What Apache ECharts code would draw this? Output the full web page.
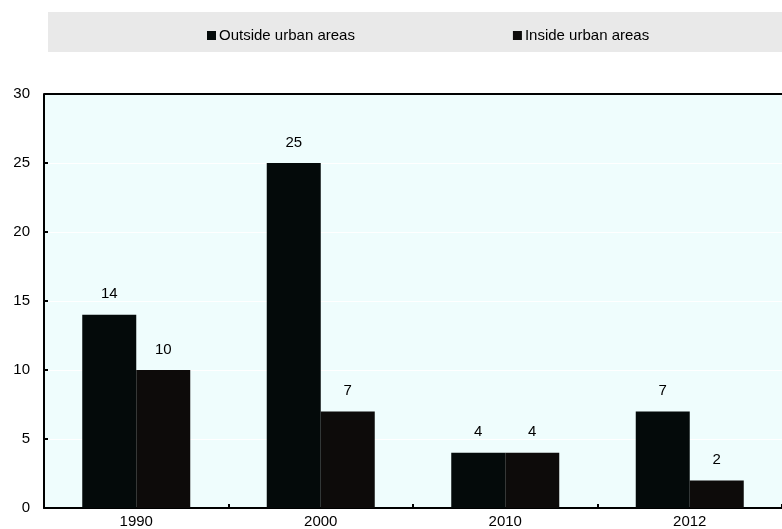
<!DOCTYPE html>
<html>
<head>
<meta charset="utf-8">
<script src="https://cdn.jsdelivr.net/npm/echarts@6/dist/echarts.min.js"></script>
<style>
  html, body { margin: 0; padding: 0; background: #ffffff; }
  #chart { width: 782px; height: 529px; }
</style>
</head>
<body>
<div id="chart"></div>
<script>
// data
const years = ['1990', '2000', '2010', '2012']
const outsideUrban = [14, 25, 4, 7]
const insideUrban = [10, 7, 4, 2]
const yTicks = { min: 0, max: 30, interval: 5 }

const FONT = '"Liberation Sans", Arial, sans-serif'

let myChart = echarts.init(document.getElementById('chart'))

myChart.setOption({
  animation: false,
  textStyle: { fontFamily: FONT },
  graphic: [
    {
      // legend band
      type: 'rect',
      left: 48,
      top: 12,
      shape: { width: 734, height: 40 },
      style: { fill: '#e9e9e9' },
      z: -1
    }
  ],
  legend: {
    left: 202,
    top: 23,
    itemWidth: 9,
    itemHeight: 9,
    itemGap: 158,
    icon: 'rect',
    textStyle: { fontSize: 15, color: '#000', fontFamily: FONT, padding: [0, 0, 0, -2] },
    data: ['Outside urban areas', 'Inside urban areas']
  },
  grid: {
    left: 44,
    right: -6,
    top: 94,
    bottom: 21,
    show: true,
    backgroundColor: '#effdfd',
    borderWidth: 0
  },
  xAxis: {
    type: 'category',
    data: years,
    axisLine: { lineStyle: { color: '#000', width: 2 } },
    axisTick: { show: true, inside: true, length: 4, lineStyle: { color: '#000', width: 2 } },
    axisLabel: { color: '#000', fontSize: 15, margin: 6, fontFamily: FONT },
    splitLine: { show: false }
  },
  yAxis: {
    type: 'value',
    min: yTicks.min,
    max: yTicks.max,
    interval: yTicks.interval,
    axisLine: { show: true, lineStyle: { color: '#000', width: 2 } },
    axisTick: { show: true, inside: true, length: 4, lineStyle: { color: '#000', width: 2 } },
    axisLabel: { color: '#000', fontSize: 15, margin: 14, fontFamily: FONT },
    splitLine: { show: true, lineStyle: { color: '#ffffff', width: 1 } }
  },
  series: [
    {
      name: 'Outside urban areas',
      type: 'bar',
      data: outsideUrban,
      barWidth: 54,
      barGap: '0%',
      itemStyle: { color: '#040a0a' },
      label: { show: true, position: 'top', distance: 13, color: '#000', fontSize: 15, fontFamily: FONT }
    },
    {
      name: 'Inside urban areas',
      type: 'bar',
      data: insideUrban,
      barWidth: 54,
      barGap: '0%',
      itemStyle: { color: '#0d0b0a' },
      label: { show: true, position: 'top', distance: 13, color: '#000', fontSize: 15, fontFamily: FONT }
    },
    {
      // top border of the plot area
      type: 'line',
      data: [],
      markLine: {
        silent: true,
        symbol: 'none',
        label: { show: false },
        lineStyle: { color: '#000', width: 2, type: 'solid' },
        data: [{ yAxis: 30 }]
      }
    }
  ]
})
</script>
</body>
</html>
